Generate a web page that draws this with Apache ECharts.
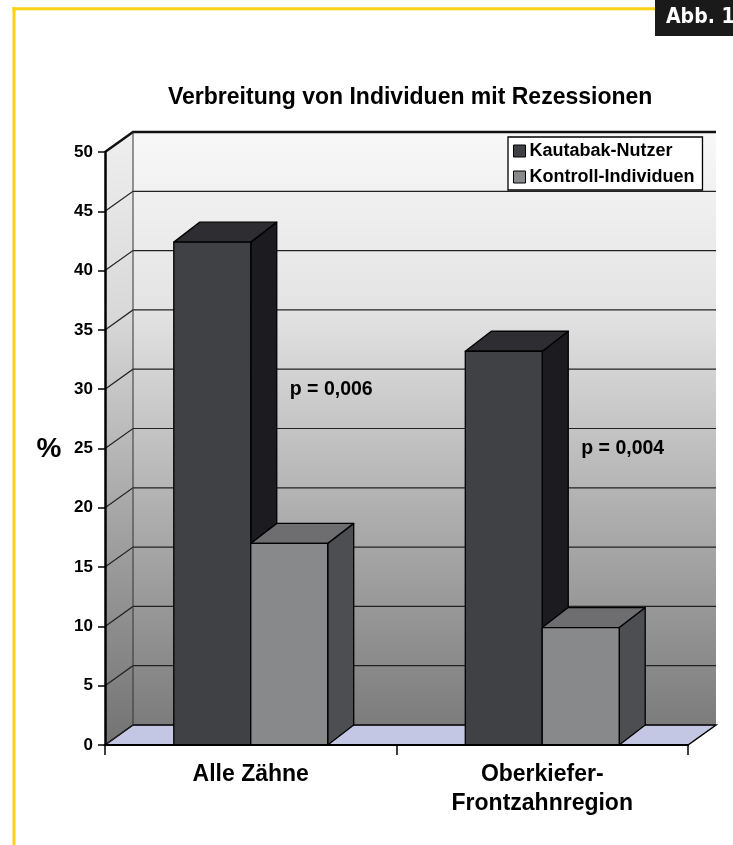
<!DOCTYPE html>
<html>
<head>
<meta charset="utf-8">
<script src="https://cdn.jsdelivr.net/npm/echarts@6/dist/echarts.min.js"></script>
<style>
  html, body { margin: 0; padding: 0; background: #fff; }
  #chart { width: 733px; height: 845px; }
</style>
</head>
<body>
<div id="chart"></div>
<script>
// Daten
var categories = ['Alle Zähne', 'Oberkiefer-\nFrontzahnregion'];
var kautabak = [42.4, 33.2];     // Kautabak-Nutzer
var kontrolle = [17.0, 9.9];     // Kontroll-Individuen
var pLabels = ['p = 0,006', 'p = 0,004'];
var pLabelLevel = [30, 25];      // Höhe der p-Werte (in %)
var yTicks = [0, 5, 10, 15, 20, 25, 30, 35, 40, 45, 50];

var FONT = '"Liberation Sans", Arial, sans-serif';
var DX = 28, DY = -20;      // Tiefe der Wände
var BDX = 26, BDY = -20;    // Tiefe der Balken
var BAR_RATIO = 0.264;      // Balkenbreite relativ zur Kategorie

var wallGrad = {
    type: 'linear', x: 0, y: 0, x2: 0, y2: 1,
    colorStops: [
        { offset: 0, color: '#f8f8f8' },
        { offset: 0.3, color: '#e3e3e3' },
        { offset: 0.65, color: '#adadae' },
        { offset: 1, color: '#7c7c7d' }
    ]
};
var sideGrad = {
    type: 'linear', x: 0, y: 0, x2: 0, y2: 1,
    colorStops: [
        { offset: 0, color: '#efefef' },
        { offset: 0.3, color: '#d8d8d8' },
        { offset: 0.65, color: '#a2a2a3' },
        { offset: 1, color: '#737374' }
    ]
};

// Rückwand, Seitenwand, Boden und Gitterlinien
function renderWalls(params, api) {
    var cs = params.coordSys;
    var x0 = cs.x, x1 = cs.x + cs.width, yT = cs.y, yB = cs.y + cs.height;
    var ch = [];
    ch.push({ type: 'rect', shape: { x: x0 + DX, y: yT + DY, width: cs.width, height: cs.height },
        style: { fill: wallGrad } });
    ch.push({ type: 'polygon', shape: { points: [[x0, yT], [x0 + DX, yT + DY], [x0 + DX, yB + DY], [x0, yB]] },
        style: { fill: sideGrad } });
    ch.push({ type: 'polygon', shape: { points: [[x0, yB], [x0 + DX, yB + DY], [x1 + DX, yB + DY], [x1, yB]] },
        style: { fill: '#c3c7e3', stroke: '#000', lineWidth: 1.5 } });
    yTicks.forEach(function (v) {
        var y = api.coord([0, v])[1];
        var top = v === yTicks[yTicks.length - 1];
        ch.push({ type: 'polyline', shape: { points: [[x0, y], [x0 + DX, y + DY], [x1 + DX, y + DY]] },
            style: { stroke: top ? '#111' : '#222', lineWidth: top ? 2.5 : 1.2, fill: null } });
    });
    ch.push({ type: 'line', shape: { x1: x0 + DX, y1: yT + DY, x2: x0 + DX, y2: yB + DY },
        style: { stroke: '#333', lineWidth: 1 } });
    return { type: 'group', children: ch, silent: true };
}

function barRenderer(side, front, topC, sideC) {
    return function (params, api) {
        var c = api.coord([api.value(0), api.value(1)]);
        var base = api.coord([api.value(0), 0]);
        var band = api.size([1, 0])[0];
        var w = band * BAR_RATIO;
        var xl = side < 0 ? c[0] - w : c[0];
        var xr = xl + w;
        var yt = c[1], yb = base[1];
        var st = { stroke: '#000', lineWidth: 1.3, lineJoin: 'round' };
        return {
            type: 'group',
            children: [
                { type: 'polygon', shape: { points: [[xr, yt], [xr + BDX, yt + BDY], [xr + BDX, yb + BDY], [xr, yb]] },
                  style: Object.assign({ fill: sideC }, st) },
                { type: 'polygon', shape: { points: [[xl, yt], [xl + BDX, yt + BDY], [xr + BDX, yt + BDY], [xr, yt]] },
                  style: Object.assign({ fill: topC }, st) },
                { type: 'rect', shape: { x: xl, y: yt, width: w, height: yb - yt },
                  style: Object.assign({ fill: front }, st) }
            ]
        };
    };
}

function renderP(params, api) {
    var c = api.coord([api.value(0), api.value(1)]);
    return {
        type: 'text',
        x: c[0] + 39, y: c[1],
        style: { text: pLabels[params.dataIndex], fill: '#000', font: 'bold 19.5px ' + FONT,
                 verticalAlign: 'middle', align: 'left' }
    };
}

var chart = echarts.init(document.getElementById('chart'));
var option = {
    animation: false,
    backgroundColor: '#fff',
    title: {
        text: 'Verbreitung von Individuen mit Rezessionen',
        left: 163, top: 81,
        textStyle: { fontFamily: FONT, fontWeight: 'bold', fontSize: 23, color: '#000' }
    },
    legend: {
        orient: 'vertical',
        left: 508, top: 137,
        padding: [5, 8, 4, 5],
        itemGap: 8,
        itemWidth: 12, itemHeight: 12,
        icon: 'rect',
        backgroundColor: '#fff',
        borderColor: '#000', borderWidth: 1.3,
        selectedMode: false,
        textStyle: { fontFamily: FONT, fontWeight: 'bold', fontSize: 18, color: '#000', lineHeight: 18, padding: [0, 0, 0, -1] },
        data: [
            { name: 'Kautabak-Nutzer', itemStyle: { color: '#404145', borderColor: '#000', borderWidth: 1 } },
            { name: 'Kontroll-Individuen', itemStyle: { color: '#88898b', borderColor: '#000', borderWidth: 1 } }
        ]
    },
    grid: { left: 105, right: 45, top: 152, bottom: 100 },
    xAxis: {
        type: 'category',
        data: categories,
        z: 10,
        axisLine: { lineStyle: { color: '#000', width: 2 } },
        axisTick: { show: true, length: 10, lineStyle: { color: '#000', width: 1.5 } },
        axisLabel: { fontFamily: FONT, fontWeight: 'bold', fontSize: 23, color: '#000', lineHeight: 29, margin: 15 },
        splitLine: { show: false }
    },
    yAxis: {
        type: 'value',
        min: 0, max: 50, interval: 5,
        z: 10,
        axisLine: { show: true, lineStyle: { color: '#000', width: 2.5 } },
        axisTick: { show: true, length: 7, lineStyle: { color: '#000', width: 1.5 } },
        axisLabel: { fontFamily: FONT, fontWeight: 'bold', fontSize: 17, color: '#000', margin: 12 },
        splitLine: { show: false }
    },
    graphic: [
        { type: 'line', shape: { x1: 14, y1: 7, x2: 14, y2: 845 }, style: { stroke: '#fcd116', lineWidth: 3 } },
        { type: 'line', shape: { x1: 12.5, y1: 8.7, x2: 655, y2: 8.7 }, style: { stroke: '#fcd116', lineWidth: 3 } },
        { type: 'rect', shape: { x: 655, y: 0, width: 78, height: 36 }, style: { fill: '#1a1a1a' } },
        { type: 'text', x: 666, y: 18, style: { text: 'Abb. 1', fill: '#fff',
            font: 'bold 21px "DejaVu Sans Condensed", "DejaVu Sans", sans-serif', verticalAlign: 'middle' } },
        { type: 'text', x: 49, y: 449, style: { text: '%', fill: '#000', font: 'bold 28px ' + FONT,
            align: 'center', verticalAlign: 'middle' } }
    ],
    series: [
        { type: 'custom', name: 'walls', silent: true, renderItem: renderWalls, data: [[0, 0]], z: 1 },
        { type: 'custom', name: 'Kautabak-Nutzer', renderItem: barRenderer(-1, '#404145', '#2e2e32', '#1c1c20'),
          itemStyle: { color: '#404145' },
          data: kautabak.map(function (v, i) { return [i, v]; }), z: 2 },
        { type: 'custom', name: 'Kontroll-Individuen', renderItem: barRenderer(1, '#88898b', '#6e6e70', '#4d4e52'),
          itemStyle: { color: '#88898b' },
          data: kontrolle.map(function (v, i) { return [i, v]; }), z: 3 },
        { type: 'custom', name: 'p', silent: true, renderItem: renderP,
          data: pLabelLevel.map(function (v, i) { return [i, v]; }), z: 4 }
    ]
};
chart.setOption(option);
</script>
</body>
</html>
